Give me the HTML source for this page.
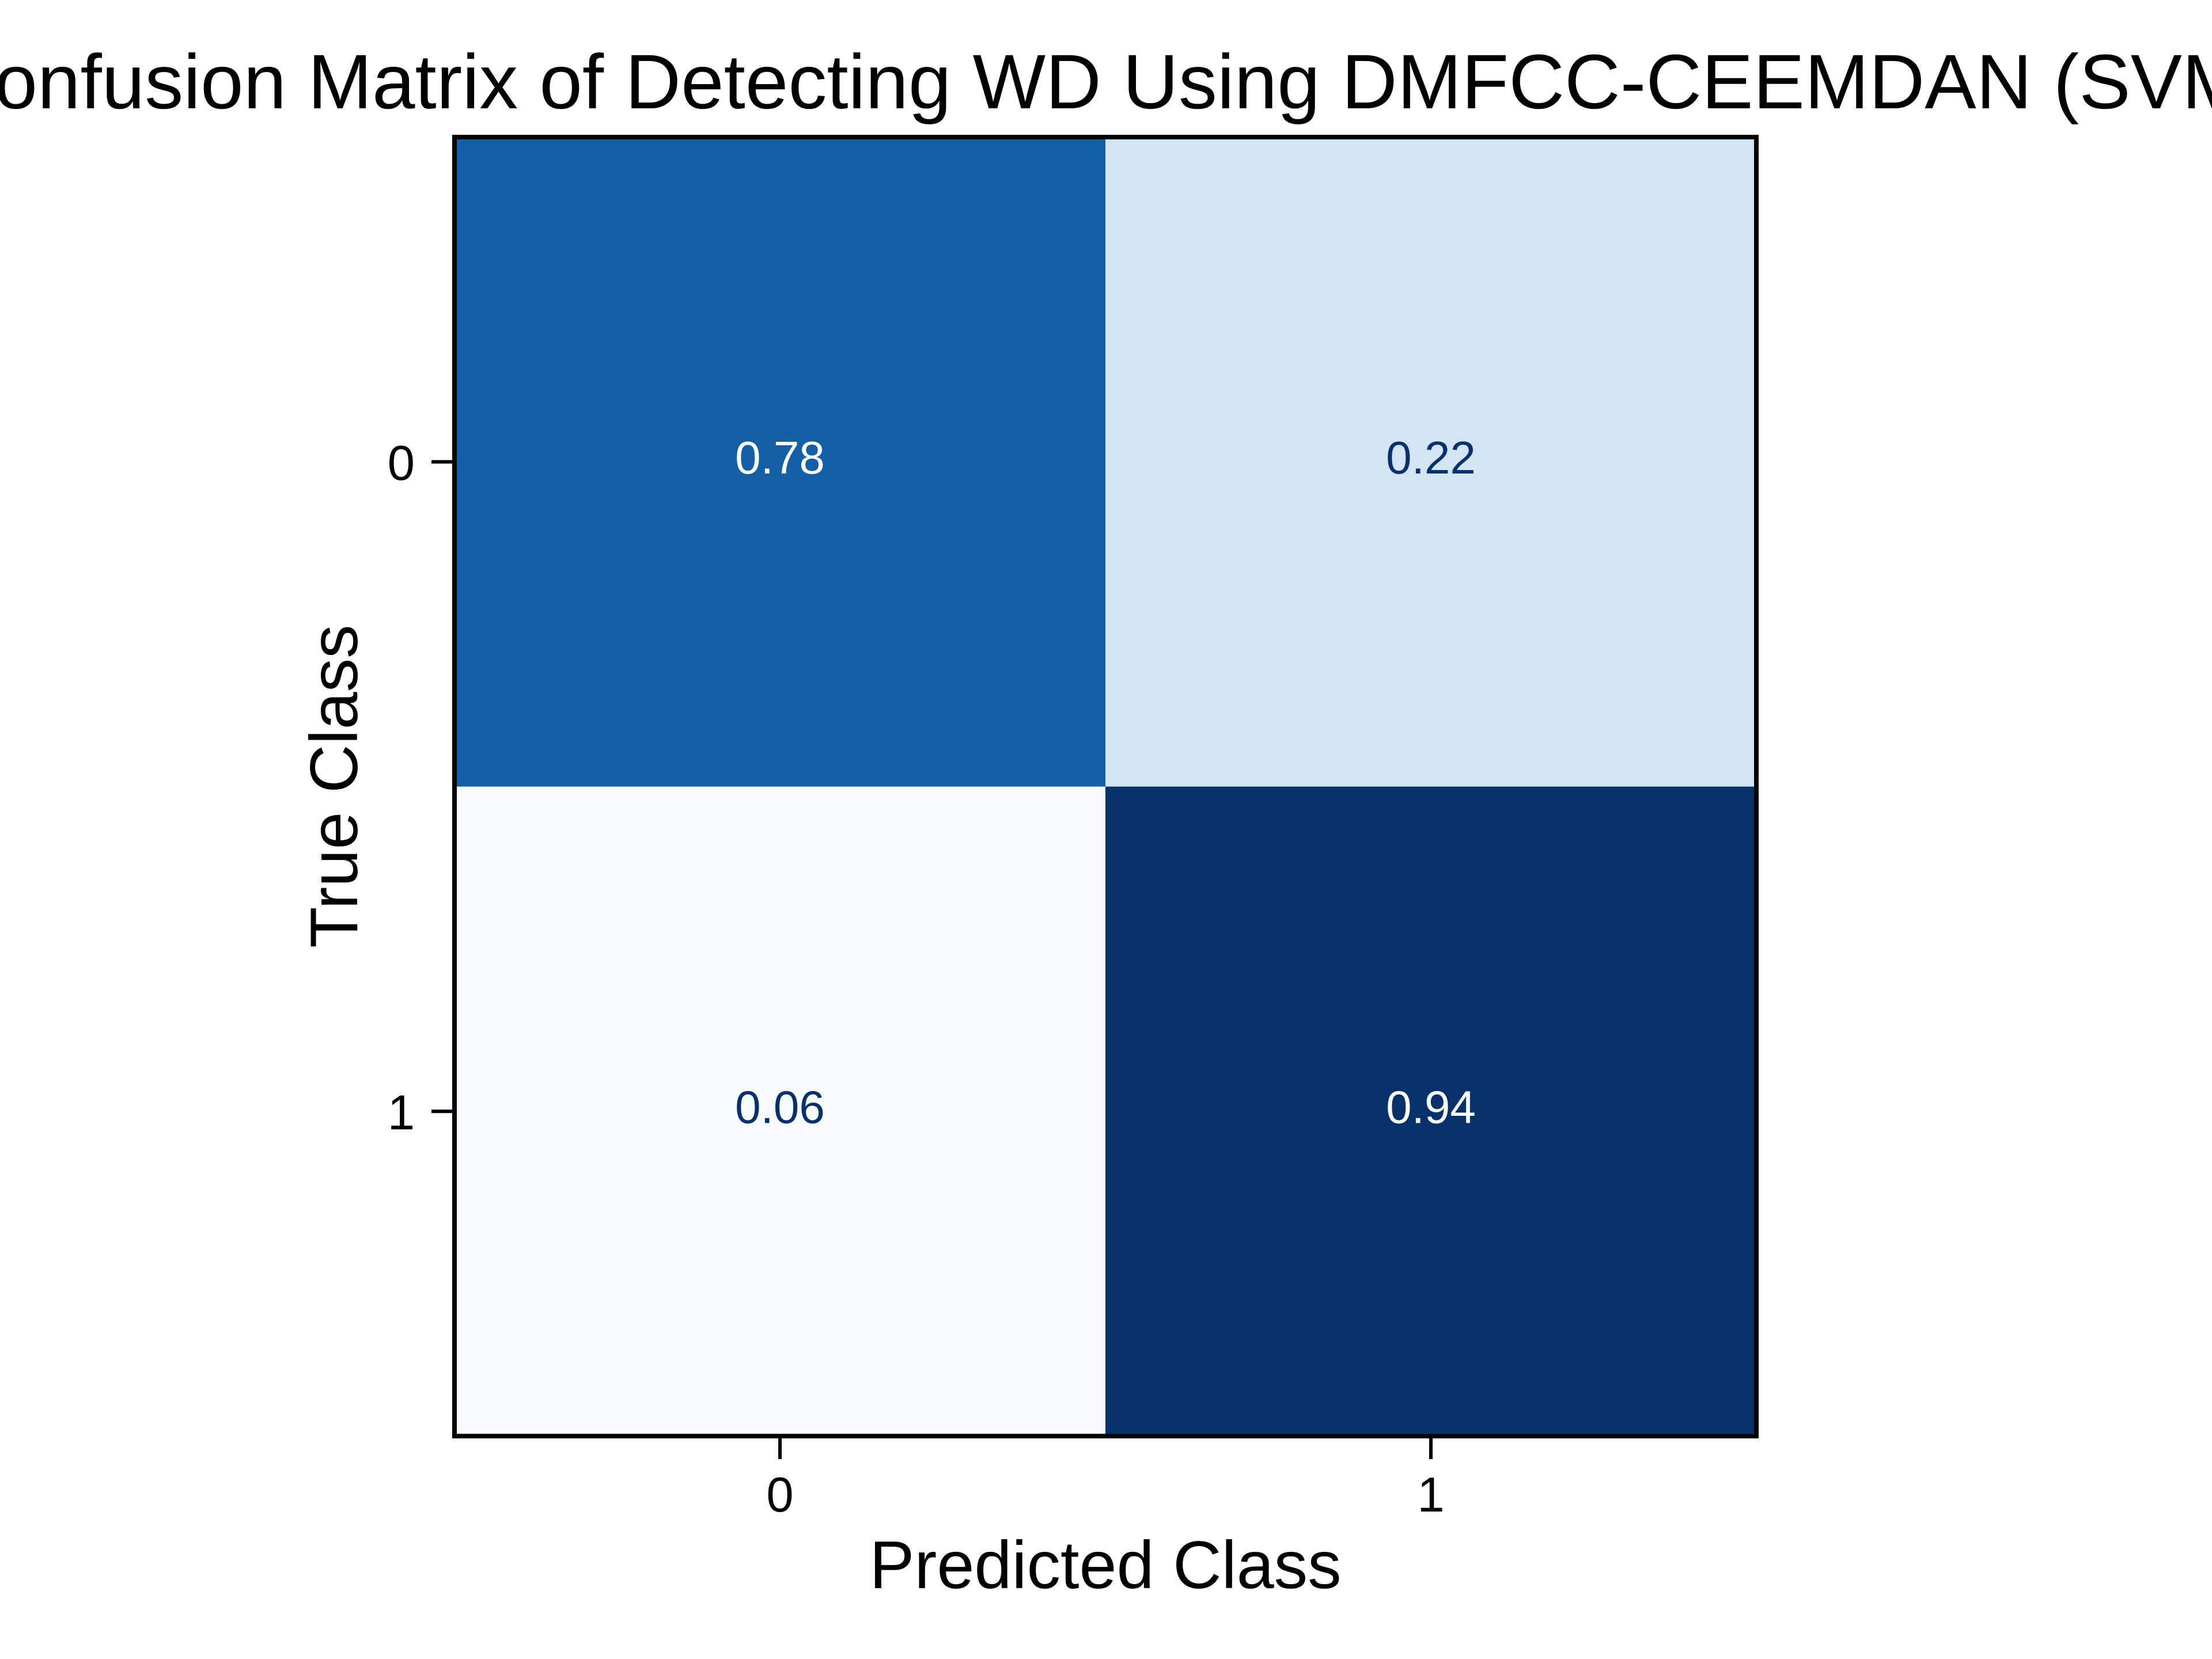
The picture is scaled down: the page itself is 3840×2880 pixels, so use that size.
<!DOCTYPE html>
<html><head><meta charset="utf-8"><style>
html,body{margin:0;padding:0;background:#fff;}
svg{display:block;font-family:"Liberation Sans",Arial,sans-serif;}
</style></head><body>
<svg id="chart" width="3840" height="2880" viewBox="0 0 3840 2880" xmlns="http://www.w3.org/2000/svg">
<rect width="3840" height="2880" fill="#fff"/>
<text x="1919" y="188" font-size="134" text-anchor="middle" fill="#000">Confusion Matrix of Detecting WD Using DMFCC-CEEMDAN (SVM)</text>
<g id="cells"></g>
<rect x="789" y="238" width="2260" height="2255" fill="none" stroke="#000" stroke-width="8"/>
<g id="axes"></g>
<text x="1919" y="2757" font-size="117" text-anchor="middle" fill="#000">Predicted Class</text>
<text x="0" y="0" font-size="117" text-anchor="middle" fill="#000" transform="translate(620,1365) rotate(-90)">True Class</text>
</svg>
<script>
const xCategories = ["0", "1"];
const yCategories = ["0", "1"];
const rowTrue0 = [0.78, 0.22];
const rowTrue1 = [0.06, 0.94];
const cellLabels = [["0.78", "0.22"], ["0.06", "0.94"]];

const NS = "http://www.w3.org/2000/svg";
const L = 789, R = 3049, T = 238, B = 2493;
const cw = (R - L) / xCategories.length, ch = (B - T) / yCategories.length;
function xPos(i) { return L + i * cw; }
function yPos(j) { return T + j * ch; }
function blues(v) {
  const stops = [[0, [247,251,255]], [0.125, [222,235,247]], [0.25, [198,219,239]], [0.375, [158,202,225]], [0.5, [107,174,214]], [0.625, [66,146,198]], [0.75, [33,113,181]], [0.875, [8,81,156]], [1, [8,48,107]]];
  for (let k = 0; k < stops.length - 1; k++) {
    const [a, ca] = stops[k], [b, cb] = stops[k + 1];
    if (v <= b) { const t = (v - a) / (b - a); return "rgb(" + ca.map((c, i) => Math.round(c + (cb[i] - c) * t)).join(",") + ")"; }
  }
  return "rgb(8,48,107)";
}
const rows = [rowTrue0, rowTrue1];
let mn = Infinity, mx = -Infinity;
rows.forEach(r => r.forEach(v => { mn = Math.min(mn, v); mx = Math.max(mx, v); }));
const cells = document.getElementById("cells");
rows.forEach((r, j) => r.forEach((v, i) => {
  const n = (v - mn) / (mx - mn);
  const rect = document.createElementNS(NS, "rect");
  rect.setAttribute("x", xPos(i)); rect.setAttribute("y", yPos(j));
  rect.setAttribute("width", cw + 0.5); rect.setAttribute("height", ch + 0.5);
  rect.setAttribute("fill", blues(n));
  
  
  cells.appendChild(rect);
  const t = document.createElementNS(NS, "text");
  t.setAttribute("x", xPos(i) + cw / 2); t.setAttribute("y", yPos(j) + ch / 2 + 20);
  t.setAttribute("font-size", "80"); t.setAttribute("text-anchor", "middle");
  t.setAttribute("fill", n > 0.5 ? "#fff" : "#08306b");
  t.textContent = cellLabels[j][i];
  
  
  cells.appendChild(t);
}));
const axes = document.getElementById("axes");
xCategories.forEach((c, i) => {
  const x = xPos(i) + cw / 2;
  const ln = document.createElementNS(NS, "line");
  ln.setAttribute("x1", x); ln.setAttribute("x2", x); ln.setAttribute("y1", B + 4); ln.setAttribute("y2", B + 40);
  ln.setAttribute("stroke", "#000"); ln.setAttribute("stroke-width", "6");
  
  
  axes.appendChild(ln);
  const t = document.createElementNS(NS, "text");
  t.setAttribute("x", x); t.setAttribute("y", 2624); t.setAttribute("font-size", "85"); t.setAttribute("text-anchor", "middle");
  t.textContent = c;
  
  
  axes.appendChild(t);
});
yCategories.forEach((c, j) => {
  const y = yPos(j) + ch / 2;
  const ln = document.createElementNS(NS, "line");
  ln.setAttribute("x1", L - 40); ln.setAttribute("x2", L - 4); ln.setAttribute("y1", y); ln.setAttribute("y2", y);
  ln.setAttribute("stroke", "#000"); ln.setAttribute("stroke-width", "6");
  
  
  axes.appendChild(ln);
  const t = document.createElementNS(NS, "text");
  t.setAttribute("x", 720); t.setAttribute("y", y + 31); t.setAttribute("font-size", "85"); t.setAttribute("text-anchor", "end");
  t.textContent = c;
  
  
  axes.appendChild(t);
});
</script>
</body></html>
